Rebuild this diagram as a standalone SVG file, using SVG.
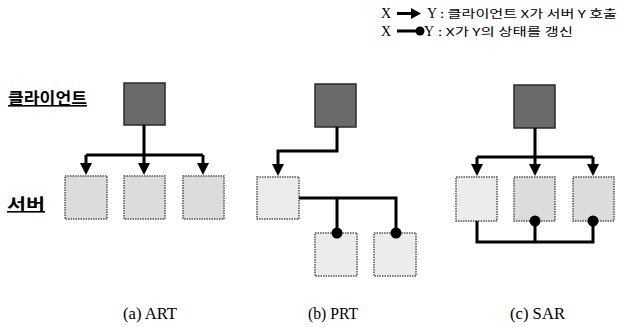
<svg xmlns="http://www.w3.org/2000/svg" xmlns:xlink="http://www.w3.org/1999/xlink" width="618" height="327" viewBox="0 0 618 327">
<style>
.client{fill:#6a6a6a;stroke:#2a2a2a;stroke-width:1.5}
.server{fill:#dcdcdc;stroke:#555;stroke-width:1.5;stroke-dasharray:1.5 1}
.light{fill:#ececec}
.conn{fill:none;stroke:#000;stroke-width:3;stroke-linejoin:miter}
.cap{font-family:"Liberation Serif",serif;font-size:17px;fill:#000}
.kor{font-family:"Noto Sans CJK KR","Noto Sans",sans-serif;font-weight:bold;font-size:16px;fill:#000;text-decoration:underline}
.leg{font-family:"Noto Sans CJK KR","Noto Sans",sans-serif;font-size:11px;fill:#000}
.legs{font-family:"Liberation Serif",serif;font-size:14px;fill:#000}
</style>
<defs>
<path id="ah" d="M-6,-12 L6,-12 L0,0 Z" fill="#000"/>
<circle id="dot" r="5.5" fill="#000"/>
</defs>
<g id="legend">
<text class="legs" x="381" y="18">X</text>
<line x1="397" y1="13.5" x2="412" y2="13.5" stroke="#000" stroke-width="3"/>
<path d="M411,8 L421,13.5 L411,19 Z" fill="#000"/>
<text class="legs" x="427" y="18">Y</text>
<text class="leg" x="440" y="18" textLength="177" lengthAdjust="spacingAndGlyphs">: 클라이언트 X가 서버 Y 호출</text>
<text class="legs" x="381" y="36">X</text>
<line x1="397" y1="31" x2="418" y2="31" stroke="#000" stroke-width="3"/>
<circle cx="420" cy="31" r="4.5" fill="#000"/>
<text class="legs" x="424" y="36">Y</text>
<text class="leg" x="438" y="36" textLength="135" lengthAdjust="spacingAndGlyphs">: X가 Y의 상태를 갱신</text>
</g>
<g id="labels">
<text class="kor" x="8" y="104" textLength="79" lengthAdjust="spacingAndGlyphs">클라이언트</text>
<text class="kor" x="7" y="210" textLength="38" lengthAdjust="spacingAndGlyphs">서버</text>
<text class="cap" x="123" y="319" textLength="54" lengthAdjust="spacingAndGlyphs">(a) ART</text>
<text class="cap" x="308" y="319" textLength="50" lengthAdjust="spacingAndGlyphs">(b) PRT</text>
<text class="cap" x="510" y="319" textLength="55" lengthAdjust="spacingAndGlyphs">(c) SAR</text>
</g>
<g id="art-client"><rect class="client" x="124" y="83" width="41" height="42"/></g>
<g id="art-s1"><rect class="server" x="65" y="176" width="42" height="43"/></g>
<g id="art-s2"><rect class="server" x="124" y="176" width="41" height="43"/></g>
<g id="art-s3"><rect class="server" x="183" y="176" width="41" height="43"/></g>
<g id="prt-client"><rect class="client" x="315" y="84" width="41" height="43"/></g>
<g id="prt-s1"><rect class="server light" x="257" y="177" width="42" height="42"/></g>
<g id="prt-s2"><rect class="server light" x="315" y="233" width="42" height="43"/></g>
<g id="prt-s3"><rect class="server light" x="374" y="233" width="42" height="43"/></g>
<g id="sar-client"><rect class="client" x="514" y="85" width="41" height="43"/></g>
<g id="sar-s1"><rect class="server light" x="456" y="177" width="41" height="44"/></g>
<g id="sar-s2"><rect class="server" x="514" y="177" width="41" height="44"/></g>
<g id="sar-s3"><rect class="server" x="573" y="177" width="41" height="44"/></g>
<g id="connectors">
<path class="conn" d="M144,125 V155 M86,155 H203 M86,155 V166 M144,155 V166 M203,155 V166"/>
<use xlink:href="#ah" x="86" y="175"/>
<use xlink:href="#ah" x="144" y="175"/>
<use xlink:href="#ah" x="203" y="175"/>
<path class="conn" d="M337,127 V151 H278 V168"/>
<use xlink:href="#ah" x="278" y="176"/>
<path class="conn" d="M299,198 H396 V233 M337,198 V233"/>
<use xlink:href="#dot" x="337" y="233"/>
<use xlink:href="#dot" x="396" y="233"/>
<path class="conn" d="M535,128 V157 M477,157 H593 M477,157 V168 M535,157 V168 M593,157 V168"/>
<use xlink:href="#ah" x="477" y="176"/>
<use xlink:href="#ah" x="535" y="176"/>
<use xlink:href="#ah" x="593" y="176"/>
<path class="conn" d="M477,221 V242 H593 V221 M535,221 V242"/>
<use xlink:href="#dot" x="535" y="221"/>
<use xlink:href="#dot" x="593" y="221"/>
</g>
</svg>
